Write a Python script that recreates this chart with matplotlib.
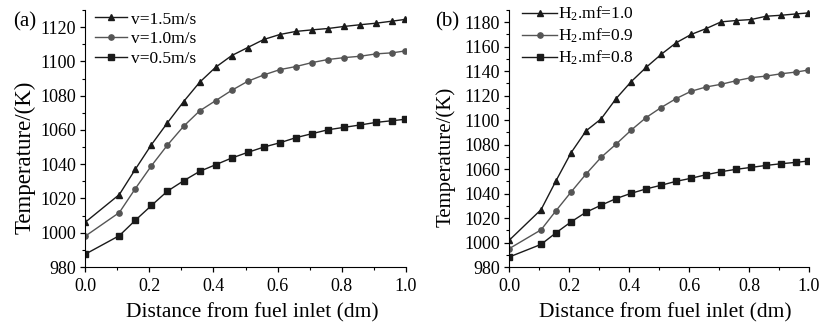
import matplotlib
matplotlib.use("Agg")
import matplotlib.pyplot as plt
from matplotlib.ticker import MultipleLocator

plt.rcParams['font.family'] = ['Liberation Serif', 'DejaVu Serif']
plt.rcParams['mathtext.fontset'] = 'custom'
plt.rcParams['mathtext.rm'] = 'Liberation Serif'
plt.rcParams['mathtext.default'] = 'regular'

# distance along channel (dm)
x = [0.0, 0.107, 0.157, 0.207, 0.257, 0.307, 0.357, 0.407, 0.457, 0.507,
     0.557, 0.607, 0.657, 0.707, 0.757, 0.807, 0.857, 0.907, 0.957, 0.997]

# (a) inlet velocity
v15 = [1006.0, 1022.3, 1037.1, 1051.4, 1064.2, 1076.5, 1087.8, 1096.6, 1103.4, 1108.1,
       1112.8, 1115.7, 1117.5, 1118.4, 1119.2, 1120.4, 1121.4, 1122.3, 1123.5, 1124.5]
v10 = [997.9, 1011.8, 1025.8, 1039.1, 1051.2, 1062.1, 1071.1, 1077.1, 1083.1, 1088.4,
       1092.1, 1095.2, 1097.0, 1099.3, 1101.1, 1102.2, 1103.0, 1104.4, 1105.0, 1106.1]
v05 = [987.4, 998.3, 1007.3, 1015.9, 1024.3, 1030.3, 1035.8, 1039.7, 1043.6, 1046.9,
       1050.0, 1052.5, 1055.5, 1057.8, 1060.1, 1061.5, 1062.9, 1064.4, 1065.4, 1066.2]

# (b) H2 mass fraction
mf10 = [1001.7, 1026.9, 1050.6, 1073.4, 1091.3, 1101.0, 1117.6, 1131.4, 1143.1, 1153.7,
        1163.2, 1170.0, 1174.8, 1180.3, 1181.4, 1182.2, 1184.9, 1185.7, 1186.8, 1187.6]
mf09 = [994.9, 1010.4, 1026.1, 1041.3, 1056.0, 1069.6, 1080.4, 1091.8, 1102.1, 1110.3,
        1117.6, 1123.6, 1127.1, 1129.3, 1132.2, 1134.7, 1136.0, 1137.9, 1139.3, 1140.9]
mf08 = [988.1, 998.5, 1008.0, 1016.9, 1024.8, 1030.5, 1035.9, 1040.2, 1043.8, 1046.8,
        1050.0, 1052.5, 1055.4, 1057.9, 1059.8, 1061.4, 1063.0, 1064.4, 1065.5, 1066.6]

labels_a = ['v=1.5m/s', 'v=1.0m/s', 'v=0.5m/s']
labels_b = ['H$_2$.mf=1.0', 'H$_2$.mf=0.9', 'H$_2$.mf=0.8']

markers = ['^', 'o', 's']
colors = ['#1a1a1a', '#555555', '#1a1a1a']

fig = plt.figure(figsize=(8.22, 3.25), dpi=100)
ax1 = fig.add_axes([85/822, 58/325, 321/822, 257/325])
ax2 = fig.add_axes([509/822, 58/325, 300/822, 257/325])


def style(ax, ymax, panel, px, ylx, ylsize):
    ax.spines['top'].set_visible(False)
    ax.spines['right'].set_visible(False)
    ax.set_xlim(0, 1.0)
    ax.set_ylim(980, ymax)
    ax.xaxis.set_major_locator(MultipleLocator(0.2))
    ax.xaxis.set_minor_locator(MultipleLocator(0.1))
    ax.yaxis.set_major_locator(MultipleLocator(20))
    ax.yaxis.set_minor_locator(MultipleLocator(10))
    ax.tick_params(which='major', direction='out', length=3.6, width=0.9, labelsize=13, pad=3)
    ax.tick_params(which='minor', direction='out', length=2, width=0.8)
    ax.tick_params(axis='x', which='major', pad=4)
    ax.xaxis.set_major_formatter(plt.FormatStrFormatter('%.1f'))
    ax.set_xlabel("Distance from fuel inlet (dm)", fontsize=15.5)
    ax.xaxis.set_label_coords(0.52, -0.14)
    ax.set_ylabel("Temperature/(K)", fontsize=ylsize)
    ax.yaxis.set_label_coords(ylx, 0.428)
    ax.text(px, 0.935, panel, transform=ax.transAxes, fontsize=15)


for ys, lab, m, c in zip([v15, v10, v05], labels_a, markers, colors):
    ax1.plot(x, ys, color=c, marker=m, markersize=3.8, linewidth=1, label=lab)
style(ax1, 1130, '(a)', -0.224, -0.155, 16.5)
ax1.legend(loc='upper left', frameon=False, fontsize=12.5, handlelength=1.8,
           handletextpad=0.25, labelspacing=0.2, borderaxespad=0.2,
           bbox_to_anchor=(0.0, 1.035))

for ys, lab, m, c in zip([mf10, mf09, mf08], labels_b, markers, colors):
    ax2.plot(x, ys, color=c, marker=m, markersize=3.8, linewidth=1, label=lab)
style(ax2, 1190, '(b)', -0.247, -0.178, 15)
ax2.legend(loc='upper left', frameon=False, fontsize=12.5, handlelength=2.0,
           handletextpad=0.05, labelspacing=0.2, borderaxespad=0.2,
           bbox_to_anchor=(0.01, 1.06))

plt.savefig("out.png", dpi=100)
